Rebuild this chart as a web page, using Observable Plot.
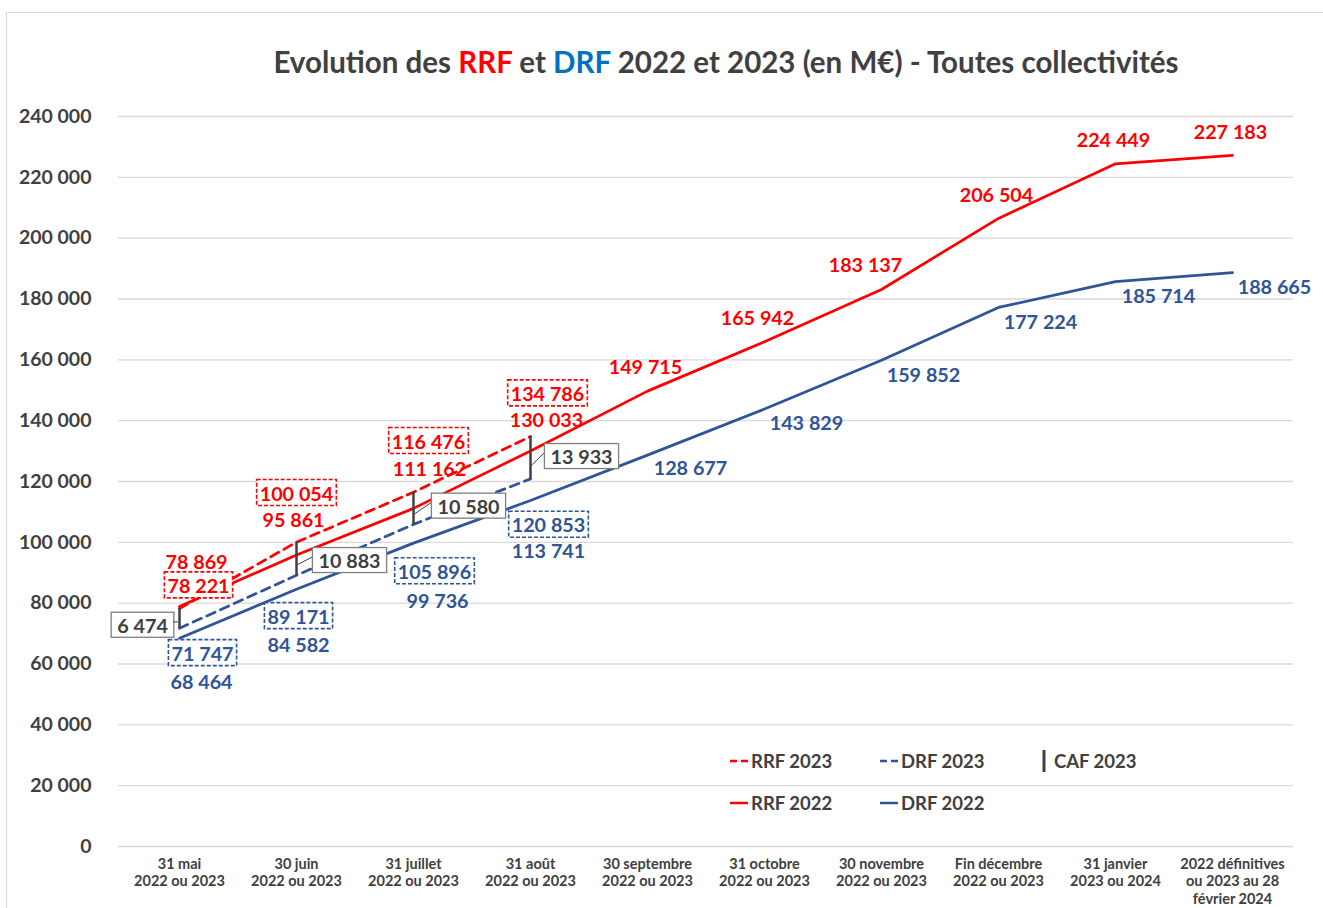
<!DOCTYPE html>
<html>
<head>
<meta charset="utf-8">
<script src="https://cdn.jsdelivr.net/npm/d3@7"></script>
<script src="https://cdn.jsdelivr.net/npm/@observablehq/plot@0.6"></script>
<style>
  body { margin: 0; background: #fff; font-family: Lato, "Open Sans", sans-serif; }
  #wrap { position: relative; width: 1323px; height: 908px; overflow: hidden; background: #fff; }
  #frame { position: absolute; left: 6px; top: 12px; width: 1340px; height: 940px; border: 1px solid #d9d9d9; box-sizing: border-box; }
  #title { position: absolute; top: 45px; left: 726px; transform: translateX(-50%); white-space: nowrap;
           font-size: 29.5px; font-weight: bold; color: #404040; line-height: 34px; }
  #chart { position: absolute; left: 0; top: 90px; }
  .leg { position: absolute; display: flex; align-items: center; height: 24px; font-size: 18.5px; font-weight: bold; color: #404040; white-space: nowrap; }
  .leg svg { display: block; margin-right: 1px; }
</style>
</head>
<body>
<div id="wrap">
  <div id="frame"></div>
  <div id="title">Evolution des <span style="color:#ff0000">RRF</span> et <span style="color:#0070c0">DRF</span> 2022 et 2023 (en M€) - Toutes collectivités</div>
  <div id="chart"></div>
  <div class="leg" style="left:730px;top:749px"><svg width="20" height="6"><line x1="0" x2="18" y1="3" y2="3" stroke="#ff0000" stroke-width="2.5" stroke-dasharray="7,4"/></svg>RRF 2023</div>
  <div class="leg" style="left:880px;top:749px"><svg width="20" height="6"><line x1="0" x2="18" y1="3" y2="3" stroke="#2f5597" stroke-width="2.5" stroke-dasharray="7,4"/></svg>DRF 2023</div>
  <div class="leg" style="left:1041px;top:749px"><svg width="12" height="24"><line x1="3" x2="3" y1="1" y2="23" stroke="#404040" stroke-width="3"/></svg>CAF 2023</div>
  <div class="leg" style="left:730px;top:791px"><svg width="20" height="6"><line x1="0" x2="18" y1="3" y2="3" stroke="#ff0000" stroke-width="2.5"/></svg>RRF 2022</div>
  <div class="leg" style="left:880px;top:791px"><svg width="20" height="6"><line x1="0" x2="18" y1="3" y2="3" stroke="#2f5597" stroke-width="2.5"/></svg>DRF 2022</div>
</div>
<script>
// ---------------- DATA ----------------
const categories = [
  "31 mai\n2022 ou 2023",
  "30 juin\n2022 ou 2023",
  "31 juillet\n2022 ou 2023",
  "31 août\n2022 ou 2023",
  "30 septembre\n2022 ou 2023",
  "31 octobre\n2022 ou 2023",
  "30 novembre\n2022 ou 2023",
  "Fin décembre\n2022 ou 2023",
  "31 janvier\n2023 ou 2024",
  "2022 définitives\nou 2023 au 28\nfévrier 2024"
];
const rrf2022 = [78869, 95861, 111162, 130033, 149715, 165942, 183137, 206504, 224449, 227183];
const drf2022 = [68464, 84582, 99736, 113741, 128677, 143829, 159852, 177224, 185714, 188665];
const rrf2023 = [78221, 100054, 116476, 134786];
const drf2023 = [71747, 89171, 105896, 120853];
const caf2023 = [6474, 10883, 10580, 13933];
const yTicks = [0, 20000, 40000, 60000, 80000, 100000, 120000, 140000, 160000, 180000, 200000, 220000, 240000];

// ---------------- LAYOUT (label offsets in px) ----------------
const rrf22Off = [[17,-44],[-3,-34],[16,-39],[16,-30],[-2,-23],[-7,-23],[-16,-24],[-2,-23],[-2,-23],[-2,-23]];
const drf22Off = [[22,44],[2,56],[24,59],[18,51],[43,14],[42,15],[42,15],[42,15],[43,15],[42,15]];
const rrf23Off = [[19,-22],[0,-48],[15,-50],[17,-42]];
const drf23Off = [[23,26],[2,42],[21,48],[18,47]];
const cafOff   = [[-37,8],[53,3],[55,-1],[51,0]];

const RED = "#ff0000", BLUE = "#2f5597", GREY = "#404040";
const fmt = d => d3.format(",")(d).replace(/,/g, " ");
const series = vals => vals.map((v, i) => ({cat: categories[i], v}));

function labels(vals, offs, fill, tag, yOf) {
  return vals.map((v, i) => Plot.text(
    [{cat: categories[i], y: yOf ? yOf(i) : v, t: fmt(v)}],
    {x: "cat", y: "y", text: "t", dx: offs[i][0], dy: offs[i][1], fill,
     fontSize: 19.8, fontWeight: "bold", ariaDescription: tag}
  ));
}

const cafMid = i => (rrf2023[i] + drf2023[i]) / 2;

const plot = Plot.plot({
  width: 1323,
  height: 818,
  marginLeft: 118,
  marginRight: 30,
  marginTop: 26,
  marginBottom: 62,
  style: {fontFamily: "Lato, 'Open Sans', sans-serif", color: GREY, background: "transparent", overflow: "visible"},
  x: {type: "point", domain: categories, padding: 0.5, align: 0.5, axis: null},
  y: {domain: [0, 240000], axis: null},
  marks: [
    Plot.ruleY(yTicks, {stroke: "#d9d9d9", strokeWidth: 1.3}),
    Plot.axisY(yTicks, {tickSize: 0, tickPadding: 27, tickFormat: fmt, fontSize: 19.5, fontWeight: "bold", label: null}),
    Plot.text(categories, {x: d => d, text: d => d, frameAnchor: "bottom", lineAnchor: "top", dy: 10,
      fontSize: 14.5, fontWeight: "bold", lineHeight: 1.2, fill: GREY}),
    Plot.line(series(drf2022), {x: "cat", y: "v", stroke: BLUE, strokeWidth: 2.75}),
    Plot.line(series(drf2023), {x: "cat", y: "v", stroke: BLUE, strokeWidth: 2.75, strokeDasharray: "9,6"}),
    Plot.line(series(rrf2022), {x: "cat", y: "v", stroke: RED, strokeWidth: 2.75}),
    Plot.line(series(rrf2023), {x: "cat", y: "v", stroke: RED, strokeWidth: 2.75, strokeDasharray: "9,6"}),
    Plot.ruleX(caf2023.map((c, i) => ({cat: categories[i], y1: drf2023[i], y2: rrf2023[i]})),
      {x: "cat", y1: "y1", y2: "y2", stroke: GREY, strokeWidth: 2.5}),
    ...labels(rrf2022, rrf22Off, RED, "lab-rrf22"),
    ...labels(drf2022, drf22Off, BLUE, "lab-drf22"),
    ...labels(rrf2023, rrf23Off, RED, "box-rrf23"),
    ...labels(drf2023, drf23Off, BLUE, "box-drf23"),
    ...labels(caf2023, cafOff, GREY, "box-caf", cafMid)
  ]
});

document.getElementById("chart").appendChild(plot);

// boxes around labels
function box(tag, stroke, dash, padX, padY, sw) {
  const out = [];
  plot.querySelectorAll(`g[aria-description="${tag}"] text`).forEach(t => {
    const b = t.getBBox();
    const r = document.createElementNS("http://www.w3.org/2000/svg", "rect");
    r.setAttribute("x", b.x - padX);
    r.setAttribute("y", b.y - padY);
    r.setAttribute("width", b.width + 2 * padX);
    r.setAttribute("height", b.height + 2 * padY);
    r.setAttribute("fill", "#fff");
    r.setAttribute("stroke", stroke);
    r.setAttribute("stroke-width", sw);
    if (dash) r.setAttribute("stroke-dasharray", dash);
    const tr = t.getAttribute("transform");
    if (tr) r.setAttribute("transform", tr);
    t.parentNode.insertBefore(r, t);
    out.push(b.width + 2 * padX);
  });
  return out;
}
box("box-rrf23", RED, "4,2", 3, 1, 1.6);
box("box-drf23", BLUE, "4,2", 3, 1, 1.6);
const cafW = box("box-caf", "#7f7f7f", null, 6, 0.5, 1.3);

// leader lines from CAF bars to boxes
const sx = plot.scale("x"), sy = plot.scale("y");
const lg = d3.select(plot).append("g").attr("stroke", GREY).attr("stroke-width", 1);
caf2023.forEach((c, i) => {
  const bx = sx.apply(categories[i]);
  const by = sy.apply(drf2023[i] + 0.3 * c);
  const tx = bx + cafOff[i][0];
  const ty = sy.apply(cafMid(i)) + cafOff[i][1];
  const hw = (cafW[i] || 70) / 2;
  const ex = cafOff[i][0] > 0 ? tx - hw : tx + hw;
  lg.append("line").attr("x1", bx + (cafOff[i][0] > 0 ? 1 : -1)).attr("y1", by).attr("x2", ex).attr("y2", ty - 4);
});
</script>
</body>
</html>
